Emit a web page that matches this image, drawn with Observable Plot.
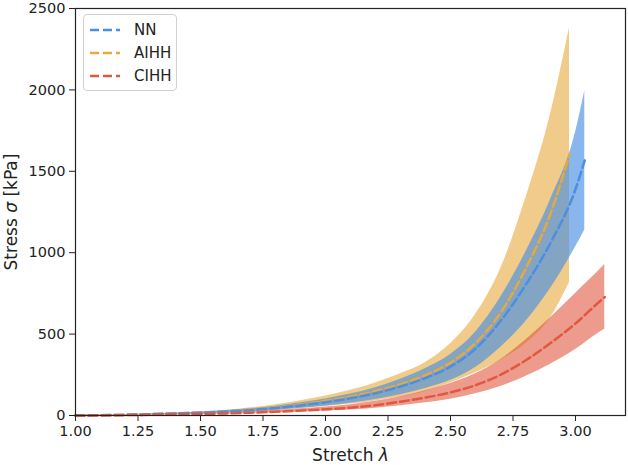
<!DOCTYPE html>
<html>
<head>
<meta charset="utf-8">
<script src="https://cdn.jsdelivr.net/npm/d3@7"></script>
<script src="https://cdn.jsdelivr.net/npm/@observablehq/plot@0.6"></script>
<style>
  body { margin: 0; background: #fff; }
  #chart { position: relative; width: 628px; height: 465px; font-family: "DejaVu Sans", sans-serif; }
  .legend { position: absolute; left: 83px; top: 14px; width: 92px; padding: 3px 0; background: rgba(255,255,255,0.85);
    border: 1px solid #d0d0d0; border-radius: 4px; font-size: 15px; color: #222; }
  .legend div { display: flex; align-items: center; height: 23px; }
  .legend svg { margin: 0 14px 0 6px; }
</style>
</head>
<body>
<div id="chart"></div>
<script>
// stretch values (one list per model, the curves stop at different ends)
const lamNN   = [1.0, 1.1, 1.2, 1.3, 1.4, 1.5, 1.6, 1.7, 1.8, 1.9, 2.0, 2.1, 2.2, 2.3, 2.4, 2.5, 2.6, 2.7, 2.8, 2.9, 3.0, 3.037];
const lamAIHH = [1.0, 1.1, 1.2, 1.3, 1.4, 1.5, 1.6, 1.7, 1.8, 1.9, 2.0, 2.1, 2.2, 2.3, 2.4, 2.5, 2.6, 2.7, 2.8, 2.9, 2.976];
const lamCIHH = [1.0, 1.1, 1.2, 1.3, 1.4, 1.5, 1.6, 1.7, 1.8, 1.9, 2.0, 2.1, 2.2, 2.3, 2.4, 2.5, 2.6, 2.7, 2.8, 2.9, 3.0, 3.1, 3.117];

// stress in kPa: mean, lower and upper edge of the band
const nnMean = [0, 1.5, 4, 8, 12.5, 17, 24, 33, 46, 62, 82, 106, 137, 178, 230, 300, 410, 580, 800, 1060, 1390, 1567];
const nnLow  = [0, 1.1, 2.9, 5.8, 9, 12.2, 17.3, 23.8, 33, 44.6, 59, 76, 99, 128, 166, 216, 295, 418, 576, 780, 1035, 1140];
const nnHigh = [0, 1.9, 5, 10, 15.6, 21, 30, 41, 57, 78, 102, 132, 171, 222, 288, 375, 512, 725, 1000, 1325, 1738, 1994];

const aiMean = [0, 1.5, 4, 8, 13, 18, 26, 36, 50, 68, 90, 116, 150, 192, 248, 325, 445, 630, 900, 1240, 1604];
const aiLow  = [0, 1.1, 3, 6, 9.5, 13, 18, 24, 33, 43, 56, 70, 89, 113, 148, 200, 262, 340, 440, 600, 817];
const aiHigh = [0, 1.9, 5, 10, 15.5, 21, 31, 47, 66, 91, 120, 155, 200, 256, 325, 440, 620, 900, 1330, 1850, 2384];

const ciMean = [0, 1, 2.5, 4.5, 7, 9.5, 13, 17.5, 23, 30, 38, 48, 63, 85, 110, 142, 186, 250, 338, 445, 565, 705, 727];
const ciLow  = [0, 0.7, 1.8, 3.2, 5, 6.8, 9.3, 12.5, 16.5, 21.5, 27, 34, 45, 60, 78, 100, 133, 178, 240, 315, 405, 515, 530];
const ciHigh = [0, 1.4, 3.4, 6.2, 9.7, 13, 18, 24, 32, 41, 52, 66, 87, 115, 152, 196, 256, 343, 462, 600, 750, 900, 927];

const models = ["NN", "AIHH", "CIHH"];
const colors = {NN: "#4a8fe2", AIHH: "#e6a93c", CIHH: "#e0583f"};
const xTicks = [1.0, 1.25, 1.5, 1.75, 2.0, 2.25, 2.5, 2.75, 3.0];
const yTicks = [0, 500, 1000, 1500, 2000, 2500];

const rows = (lam, mean, lo, hi) => lam.map((l, i) => ({l, mean: mean[i], lo: lo[i], hi: hi[i]}));
const nn = rows(lamNN, nnMean, nnLow, nnHigh);
const ai = rows(lamAIHH, aiMean, aiLow, aiHigh);
const ci = rows(lamCIHH, ciMean, ciLow, ciHigh);

const band = (data, c, op) => Plot.areaY(data, {x: "l", y1: "lo", y2: "hi", fill: c, fillOpacity: op, curve: "monotone-x"});
const dash = (data, c) => Plot.line(data, {x: "l", y: "mean", stroke: c, strokeWidth: 2.5, strokeDasharray: "9,4", curve: "monotone-x"});

const chart = Plot.plot({
  width: 628,
  height: 465,
  marginLeft: 75,
  marginRight: 3,
  marginTop: 8,
  marginBottom: 50,
  style: {fontFamily: "DejaVu Sans", fontSize: "14px", color: "#222", background: "transparent"},
  x: {domain: [1, 3.2]},
  y: {domain: [0, 2500]},
  marks: [
    band(ai, colors.AIHH, 0.6),
    band(nn, colors.NN, 0.65),
    band(ci, colors.CIHH, 0.6),
    dash(ai, colors.AIHH),
    dash(nn, colors.NN),
    dash(ci, colors.CIHH),
    Plot.frame({stroke: "#222", strokeWidth: 1.2}),
    Plot.axisX({ticks: xTicks, tickFormat: ".2f", tickSize: 6, tickPadding: 4, label: "Stretch λ",
      labelAnchor: "center", labelArrow: false, labelOffset: 45, fontSize: 14.5}),
    Plot.axisY({ticks: yTicks, tickFormat: d => String(d), tickSize: 6, tickPadding: 4, label: "Stress σ [kPa]",
      labelAnchor: "center", labelArrow: false, labelOffset: 71, fontSize: 14.5})
  ]
});

// axis titles: bigger, with the greek symbol in italics like the original
const italic = (sel, before, sym, after) => {
  sel.style("font-size", "17px").text(null);
  sel.append("tspan").text(before);
  sel.append("tspan").style("font-style", "italic").text(sym);
  if (after) sel.append("tspan").text(after);
};
italic(d3.select(chart).select("[aria-label='x-axis label'] text"), "Stretch ", "λ");
italic(d3.select(chart).select("[aria-label='y-axis label'] text"), "Stress ", "σ", " [kPa]");

const box = d3.select("#chart");
box.append(() => chart);

// legend in the top-left corner of the frame
const legend = box.append("div").attr("class", "legend");
for (const m of models) {
  const row = legend.append("div");
  const s = row.append("svg").attr("width", 30).attr("height", 6);
  s.append("line").attr("x1", 0).attr("x2", 30).attr("y1", 3).attr("y2", 3)
    .attr("stroke", colors[m]).attr("stroke-width", 2.5).attr("stroke-dasharray", "9,4");
  row.append("span").text(m);
}
</script>
</body>
</html>
